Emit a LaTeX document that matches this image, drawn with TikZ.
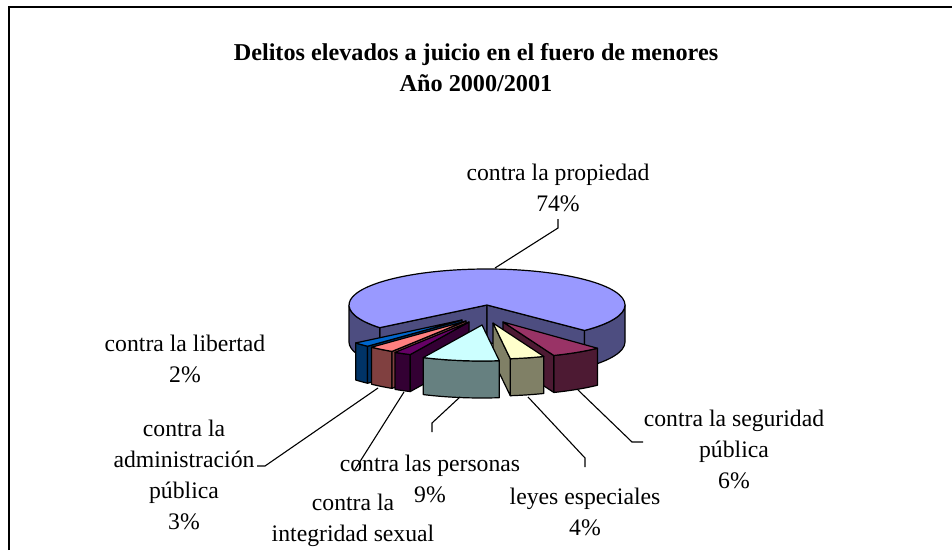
\documentclass[tikz,border=0pt]{standalone}
\usepackage{fontspec}
\setmainfont{Liberation Serif}
\definecolor{propT}{HTML}{9999FF}\definecolor{propS}{HTML}{4D4D80}
\definecolor{libT}{HTML}{0066CC}\definecolor{libS}{HTML}{003366}
\definecolor{admT}{HTML}{FF8080}\definecolor{admS}{HTML}{804040}
\definecolor{intT}{HTML}{660066}\definecolor{intS}{HTML}{330033}
\definecolor{perT}{HTML}{CCFFFF}\definecolor{perS}{HTML}{668080}
\definecolor{leyT}{HTML}{FFFFCC}\definecolor{leyS}{HTML}{808066}
\definecolor{segT}{HTML}{993366}\definecolor{segS}{HTML}{4D1A33}
% #1 ox, #2 oy (px down), #3 a, #4 b, #5 colour
\newcommand\pieouter[5]{%
  \filldraw[pieline,fill=#5,shift={(#1,-#2)}]
    ({487+138*cos(#3)},{245+36*sin(#3)}) arc[start angle=#3,end angle=#4,x radius=138,y radius=36]
    -- ++(0,-37) arc[start angle=#4,end angle=#3,x radius=138,y radius=36] -- cycle;}
% #1 ox, #2 oy, #3 angle, #4 colour
\newcommand\piecut[4]{%
  \filldraw[pieline,fill=#4,shift={(#1,-#2)}]
    (487,245) -- ({487+138*cos(#3)},{245+36*sin(#3)}) -- ++(0,-37) -- (487,208) -- cycle;}
% #1 ox, #2 oy, #3 a, #4 b, #5 colour
\newcommand\pietop[5]{%
  \filldraw[pieline,fill=#5,shift={(#1,-#2)}]
    (487,245) -- ({487+138*cos(#3)},{245+36*sin(#3)}) arc[start angle=#3,end angle=#4,x radius=138,y radius=36] -- cycle;}
\begin{document}
\begin{tikzpicture}[x=1pt,y=1pt,
  pieline/.style={draw=black,line width=1.2pt,line join=round},
  leader/.style={draw=black,line width=1.1pt},
  lbl/.style={align=center,inner sep=0pt,font=\fontsize{23.7}{31}\selectfont},
  ttl/.style={align=center,inner sep=0pt,font=\fontsize{24.2}{31}\selectfont\bfseries}]
\useasboundingbox (0,0) rectangle (952,550);
\fill[white] (0,0) rectangle (952,550);
\draw[line width=2pt] (9,0) -- (9,543) -- (952,543);

\node[ttl] (title) at (476,482.5) {Delitos elevados a juicio en el fuero de menores\\Año 2000/2001};

% big slice
\piecut{0}{0}{219}{propS}
\piecut{0}{0}{-45}{propS}
\pieouter{0}{0}{180}{219}{propS}
\pieouter{0}{0}{-45}{0}{propS}
\pietop{0}{0}{-45}{219}{propT}

% libertad
\pieouter{-25}{15}{219.6}{226.8}{libS}
\piecut{-25}{15}{226.8}{libS}
\pietop{-25}{15}{219.6}{226.8}{libT}
% administracion
\pieouter{-21}{16}{226.8}{237.6}{admS}
\piecut{-21}{16}{237.6}{admS}
\pietop{-21}{16}{226.8}{237.6}{admT}
% integridad
\pieouter{-18}{17}{237.6}{244.8}{intS}
\piecut{-18}{17}{244.8}{intS}
\pietop{-18}{17}{237.6}{244.8}{intT}
% seguridad
\pieouter{16}{17}{291.6}{313.2}{segS}
\piecut{16}{17}{291.6}{segS}
\pietop{16}{17}{291.6}{313.2}{segT}
% leyes
\pieouter{6}{18}{277.2}{291.6}{leyS}
\piecut{6}{18}{277.2}{leyS}
\pietop{6}{18}{277.2}{291.6}{leyT}
% personas
\pieouter{-5}{20}{244.8}{277.2}{perS}
\pietop{-5}{20}{244.8}{277.2}{perT}

% labels
\node[lbl] (prop) at (558,362) {contra la propiedad\\74\%};
\node[lbl] (lib) at (185,191) {contra la libertad\\2\%};
\node[lbl] (adm) at (184,75) {contra la\\administración\\pública\\3\%};
\node[lbl] (per) at (430,71.5) {contra las personas\\9\%};
\node[lbl] (int) at (353,30) {contra la\\integridad sexual};
\node[lbl] (ley) at (585,38.5) {leyes especiales\\4\%};
\node[lbl] (seg) at (734,101) {contra la seguridad\\pública\\6\%};

% leader coordinates
\coordinate (prop0) at (495,282); \coordinate (prop1) at (558,322); \coordinate (prop2) at (558,331);
\coordinate (adm0) at (378,162); \coordinate (adm1) at (265,84); \coordinate (adm2) at (257,84);
\coordinate (int0) at (404,158); \coordinate (int1) at (354,79);
\coordinate (per0) at (460,153); \coordinate (per1) at (432,127); \coordinate (per2) at (432,118);
\coordinate (ley0) at (528,153); \coordinate (ley1) at (585,92); \coordinate (ley2) at (585,83);
\coordinate (seg0) at (578,160); \coordinate (seg1) at (632,108); \coordinate (seg2) at (643,108);

\draw[leader] (prop0) -- (prop1) -- (prop2);
\draw[leader] (adm0) -- (adm1) -- (adm2);
\draw[leader] (int0) -- (int1);
\draw[leader] (per0) -- (per1) -- (per2);
\draw[leader] (ley0) -- (ley1) -- (ley2);
\draw[leader] (seg0) -- (seg1) -- (seg2);
\end{tikzpicture}
\end{document}
